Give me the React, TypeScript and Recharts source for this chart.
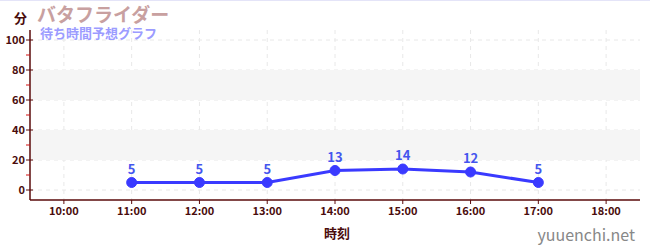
import {
  ComposedChart,
  Line,
  XAxis,
  YAxis,
  CartesianGrid,
  ReferenceArea,
  LabelList,
} from "recharts";

// Hourly wait forecast (minutes)
const hours = [11, 12, 13, 14, 15, 16, 17];
const waitMinutes = [5, 5, 5, 13, 14, 12, 5];

const xTicks = [10, 11, 12, 13, 14, 15, 16, 17, 18];
const yTicks = [0, 10, 20, 30, 40, 50, 60, 70, 80, 90, 100];
const yGrid = [0, 20, 40, 60, 80, 100];
const bands: [number, number][] = [
  [20, 40],
  [60, 80],
];

const FONT = '"Noto Sans CJK JP", "Noto Sans", sans-serif';
const AXIS = "#5a0a0a";
const TEXT = "#4a0c0c";
const SERIES = "#3a3aff";

const data = hours.map((h, i) => ({ hour: h, wait: waitMinutes[i] }));

// Major ticks every 20 cross the axis and carry a label; minor ones are short red marks
function YTick(props: any) {
  const { x, y, payload } = props;
  const v = payload.value as number;
  if (v % 20 !== 0) {
    return <line x1={x} y1={y} x2={x + 4} y2={y} stroke="#d01010" strokeWidth={1} />;
  }
  return (
    <g>
      <line x1={x} y1={y} x2={x + 7} y2={y} stroke={AXIS} strokeWidth={1} />
      <text
        x={x - 1}
        y={y}
        dy={4}
        textAnchor="end"
        fontSize={11}
        fontWeight={700}
        fill={TEXT}
        fontFamily={FONT}
      >
        {v}
      </text>
    </g>
  );
}

export default function App() {
  return (
    <div
      style={{
        position: "fixed",
        top: 0,
        left: 0,
        width: 650,
        height: 250,
        background: "#fff",
        borderTop: "1px solid #e4e4f8",
        boxSizing: "border-box",
      }}
    >
      <ComposedChart
        width={650}
        height={249}
        data={data}
        margin={{ top: 29, right: 10, bottom: 0, left: 0 }}
        style={{ fontFamily: FONT }}
      >
        {bands.map(([a, b]) => (
          <ReferenceArea key={a} y1={a} y2={b} fill="#f5f5f5" fillOpacity={1} stroke="none" />
        ))}
        <CartesianGrid
          stroke="#e8e8e8"
          strokeDasharray="4 4"
          horizontalValues={yGrid}
          verticalValues={xTicks}
        />
        <XAxis
          dataKey="hour"
          type="number"
          domain={[9.5, 18.5]}
          ticks={xTicks}
          tickFormatter={(h: number) => `${h}:00`}
          tick={{ fontSize: 11, fontWeight: 700, fill: TEXT, fontFamily: FONT }}
          tickSize={4}
          tickMargin={3}
          tickLine={{ stroke: AXIS }}
          axisLine={{ stroke: AXIS, strokeWidth: 1.5 }}
          height={50}
        />
        <YAxis
          type="number"
          domain={[-20 / 3, 320 / 3]}
          ticks={yTicks}
          allowDataOverflow
          interval={0}
          width={30}
          tickSize={0}
          tickMargin={4}
          tickLine={false}
          axisLine={{ stroke: AXIS, strokeWidth: 1.5 }}
          tick={<YTick />}
        />
        <Line
          dataKey="wait"
          stroke={SERIES}
          strokeWidth={3}
          dot={{ r: 5, fill: SERIES, stroke: SERIES, strokeWidth: 1 }}
          activeDot={false}
          isAnimationActive={false}
        >
          <LabelList
            dataKey="wait"
            position="top"
            offset={9}
            fontSize={13}
            fontWeight={700}
            fill="#4455ee"
            fontFamily={FONT}
          />
        </Line>
        <text x={14} y={22} fontSize={13} fontWeight={700} fill={TEXT} fontFamily={FONT}>
          分
        </text>
        <text x={37} y={21} fontSize={19} fontWeight={700} fill="#c8a0a0" fontFamily={FONT}>
          バタフライダー
        </text>
        <text x={40} y={37} fontSize={13} fontWeight={700} fill="#9c9cff" fontFamily={FONT}>
          待ち時間予想グラフ
        </text>
        <text
          x={337}
          y={237}
          textAnchor="middle"
          fontSize={13}
          fontWeight={700}
          fill={TEXT}
          fontFamily={FONT}
        >
          時刻
        </text>
        <text
          x={635}
          y={240}
          textAnchor="end"
          fontSize={16}
          fill="#888"
          fontFamily={FONT}
        >
          yuuenchi.net
        </text>
      </ComposedChart>
    </div>
  );
}
